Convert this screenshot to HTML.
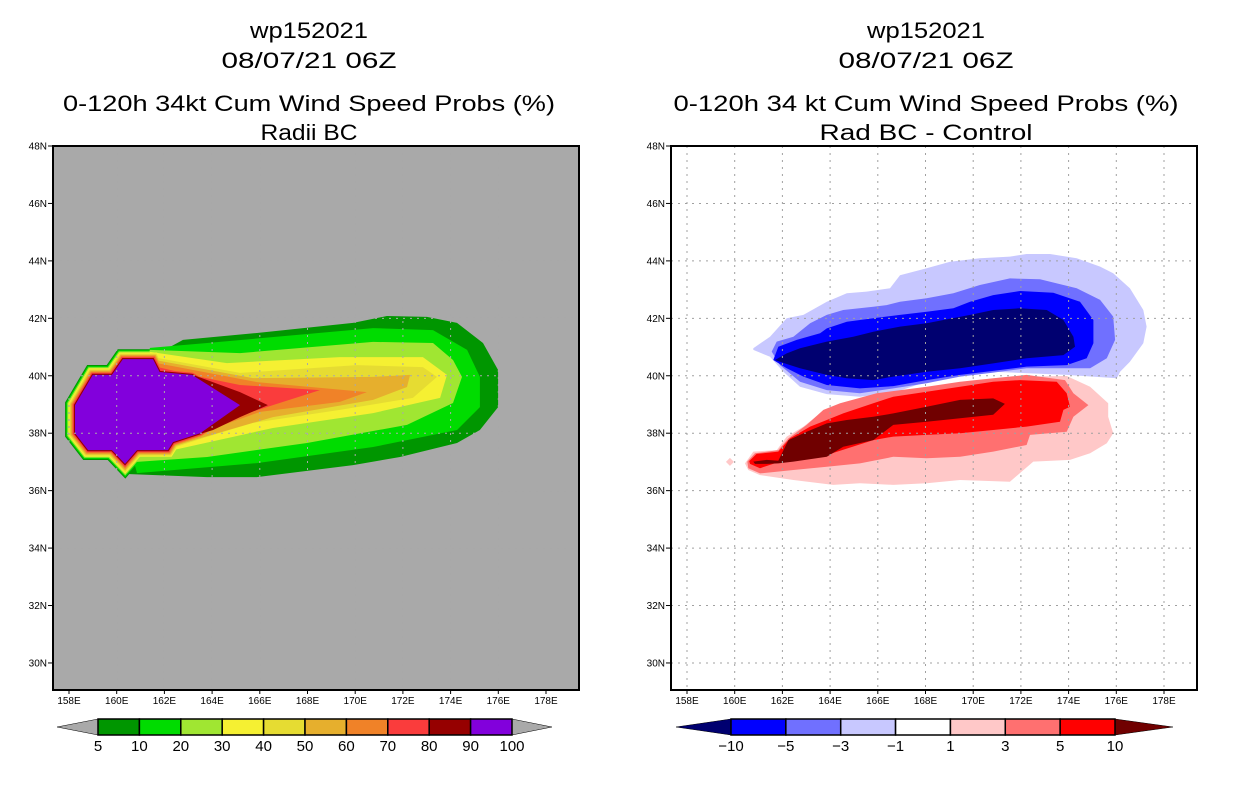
<!DOCTYPE html>
<html><head><meta charset="utf-8"><style>
html,body{margin:0;padding:0;background:#fff;}
svg{display:block;font-family:"Liberation Sans",sans-serif;}
</style></head><body>
<svg id="svg" width="1236" height="800" viewBox="0 0 1236 800" xmlns="http://www.w3.org/2000/svg"></svg>
<script>
// ---------------- data ----------------
const lonTicks = [158,160,162,164,166,168,170,172,174,176,178];
const latTicks = [30,32,34,36,38,40,42,44,46,48];
const leftLevels = ['5','10','20','30','40','50','60','70','80','90','100'];
const leftColors = ['#009600','#00dc00','#a0e632','#f5f032','#e6dc32','#e6af2d','#f08228','#fa3c3c','#960000','#8200dc'];
const rightLevels = ['-10','-5','-3','-1','1','3','5','10'];
const rightColors = ['#0000ff','#7070ff','#c8c8ff','#ffffff','#ffc8c8','#ff7070','#ff0000'];
// left panel probability contours (lon,lat), outer to inner
const prob5 = [[162.23,41.0],[162.78,41.25],[165.88,41.49],[169.91,41.84],[171.33,42.08],[173.01,42.05],[174.27,41.84],[175.36,41.14],[175.99,40.2],[175.99,38.91],[175.23,38.11],[174.27,37.66],[171.88,37.17],[169.91,36.89],[165.88,36.47],[163.79,36.47],[160.43,36.58],[160.14,38.81]];
const prob10 = [[161.40,40.97],[163.79,41.14],[170.75,41.66],[173.26,41.59],[174.69,40.9],[175.23,39.96],[175.23,38.91],[174.27,38.11],[170.75,37.52],[165.88,36.96],[160.85,36.61],[160.14,38.81]];
const prob20 = [[161.40,40.90],[165.17,40.79],[170.75,41.18],[173.26,41.14],[174.10,40.55],[174.48,39.96],[174.10,39.05],[172.17,38.29],[167.98,37.66],[163.79,37.17],[160.85,37.0],[160.14,38.81]];
const prob30 = [[161.40,40.83],[164.62,40.44],[169.36,40.65],[172.84,40.65],[173.85,40.03],[173.56,39.23],[170.75,38.70],[166.55,38.18],[162.36,37.41],[160.14,38.81]];
const prob40 = [[161.52,40.65],[165.17,40.10],[170.08,40.37],[172.84,40.30],[173.43,39.96],[172.42,39.23],[169.36,38.81],[165.71,38.36],[162.23,37.48],[160.14,38.81]];
const prob50 = [[161.61,40.55],[165.71,39.92],[170.75,39.96],[172.30,40.03],[172.17,39.61],[170.75,39.16],[166.55,38.56],[162.23,37.52],[160.14,38.81]];
const prob60 = [[161.69,40.44],[165.88,39.78],[170.49,39.43],[169.36,39.09],[166.01,38.74],[162.36,37.66],[160.14,38.81]];
const prob70 = [[161.73,40.30],[163.49,39.96],[165.17,39.68],[168.52,39.50],[166.55,38.98],[164.62,38.46],[162.95,37.87],[162.23,37.59],[160.14,38.81]];
const prob80 = [[161.82,40.13],[163.20,40.03],[165.17,39.43],[166.34,38.98],[165.17,38.56],[164.04,38.11],[162.36,37.69],[160.14,38.81]];
const prob90 = [[158.25,38.98],[159.0,40.03],[159.8,40.03],[160.26,40.58],[161.52,40.58],[161.8,40.13],[163.16,40.03],[165.17,38.98],[163.5,38.0],[162.36,37.69],[162.15,37.41],[160.85,37.41],[160.35,36.93],[159.8,37.41],[158.8,37.41],[158.25,38.0]];
const leftPolys = [prob5,prob10,prob20,prob30,prob40,prob50,prob60,prob70,prob80];
// right panel difference contours
const diffNeg1 = [[160.78,40.96],[161.48,41.36],[162.18,42.0],[162.88,42.12],[163.86,42.58],[164.7,42.87],[165.53,42.93],[166.51,43.05],[166.93,43.5],[168.05,43.74],[169.03,43.97],[170.28,44.09],[171.54,44.15],[172.24,44.24],[173.22,44.24],[174.34,44.09],[175.32,43.8],[175.87,43.57],[176.57,43.05],[177.13,42.29],[177.27,41.71],[177.13,41.13],[176.57,40.49],[176.16,40.14],[176.02,39.91],[173.92,40.03],[170.84,40.14],[169.45,39.97],[168.05,39.79],[166.65,39.41],[165.25,39.27],[163.86,39.36],[162.74,39.62],[162.04,40.14],[161.48,40.66],[160.78,40.9]];
const diffNeg3 = [[161.55,40.84],[161.76,41.19],[162.46,41.36],[163.16,41.83],[163.86,42.12],[164.55,42.29],[165.81,42.4],[166.37,42.46],[166.93,42.58],[168.05,42.7],[169.17,42.87],[170.28,43.16],[171.54,43.39],[172.8,43.36],[174.34,43.05],[175.32,42.64],[175.87,42.06],[175.95,41.25],[175.6,40.61],[174.9,40.26],[173.92,40.26],[172.24,40.26],[170.84,40.11],[169.45,39.97],[168.05,39.74],[166.65,39.56],[165.25,39.39],[163.86,39.5],[162.74,39.79],[161.9,40.37]];
const diffNeg5 = [[161.62,40.55],[161.83,41.01],[162.6,41.25],[163.58,41.48],[163.86,41.65],[164.7,41.88],[165.81,42.0],[166.93,42.12],[168.05,42.23],[169.17,42.35],[169.87,42.58],[170.84,42.81],[171.96,42.95],[173.36,42.89],[174.48,42.58],[175.04,41.94],[175.04,41.13],[174.76,40.61],[173.92,40.37],[172.24,40.32],[170.84,40.17],[169.45,40.03],[168.05,39.85],[166.65,39.64],[165.25,39.56],[163.86,39.68],[162.88,39.97],[162.18,40.26]];
const diffNeg10 = [[161.69,40.55],[162.18,40.78],[162.74,40.96],[163.86,41.19],[164.97,41.36],[165.81,41.53],[166.93,41.71],[168.05,41.83],[168.75,41.94],[169.87,42.12],[170.84,42.29],[171.96,42.35],[173.08,42.29],[173.78,41.94],[174.2,41.36],[174.27,41.01],[173.78,40.72],[172.24,40.61],[170.84,40.43],[169.45,40.26],[168.05,40.14],[166.65,39.97],[165.81,39.85],[164.7,39.91],[163.86,40.03],[162.74,40.26],[162.18,40.41]];
const diffPos1 = [[160.43,36.95],[160.78,37.36],[161.76,37.41],[162.18,37.88],[162.88,38.23],[163.58,38.69],[164.13,38.92],[165.81,39.27],[168.05,39.5],[169.73,39.74],[170.84,39.85],[172.24,39.97],[173.92,39.99],[174.9,39.62],[175.66,39.04],[175.66,38.57],[175.87,38.0],[175.6,37.65],[174.9,37.3],[174.06,37.07],[172.52,37.01],[171.54,36.31],[169.45,36.37],[168.05,36.26],[166.65,36.2],[165.25,36.26],[164.13,36.2],[162.46,36.37],[161.06,36.54],[160.57,36.72]];
const diffPos3 = [[160.53,37.01],[160.85,37.3],[161.83,37.41],[162.25,37.82],[163.02,38.29],[163.72,38.81],[164.42,39.04],[165.95,39.39],[168.05,39.62],[169.45,39.79],[170.84,39.91],[172.24,40.03],[173.85,39.85],[174.2,39.39],[174.83,38.98],[174.2,38.57],[173.92,38.05],[172.38,37.94],[172.24,37.59],[170.84,37.36],[169.45,37.18],[168.05,37.13],[166.65,37.18],[165.25,36.95],[163.86,36.83],[162.46,36.72],[161.06,36.6],[160.57,36.78]];
const diffPos5 = [[160.61,37.03],[160.92,37.28],[161.83,37.36],[162.32,37.82],[163.16,38.23],[163.86,38.46],[164.55,38.69],[165.81,39.04],[166.65,39.27],[168.05,39.44],[169.45,39.62],[170.84,39.79],[171.96,39.85],[173.5,39.79],[173.92,39.39],[174.06,38.92],[173.78,38.81],[173.64,38.4],[172.24,38.23],[170.84,38.11],[169.45,38.0],[168.05,37.94],[166.65,37.88],[165.81,37.76],[163.86,37.24],[162.46,37.07],[161.9,37.01],[161.06,36.78],[160.64,36.93]];
const diffPos10 = [[160.78,37.01],[161.34,37.07],[161.83,37.04],[162.25,37.76],[163.02,38.05],[163.86,38.34],[164.7,38.46],[165.81,38.57],[166.65,38.69],[168.05,38.92],[169.45,39.16],[170.84,39.21],[171.33,39.02],[170.84,38.64],[169.45,38.52],[168.05,38.4],[166.65,38.29],[165.81,37.76],[164.55,37.53],[163.86,37.18],[162.46,37.01],[161.83,36.95],[161.34,36.93],[160.85,36.93]];
const diffSpot = [159.8,37.0];

// ---------------- geometry ----------------
const NS='http://www.w3.org/2000/svg';
const svg=document.getElementById('svg');
const panels=[{x0:53,x1:579},{x0:671,x1:1197}];
const T=146,B=690;
function xs(p,lon){return panels[p].x0+16+(lon-158)*23.85;}
function ys(lat){return 146+(48-lat)*28.72;}
function el(tag,attrs,parent){const e=document.createElementNS(NS,tag);for(const k in attrs)e.setAttribute(k,attrs[k]);(parent||svg).appendChild(e);return e;}
function pts(p,arr){return arr.map(d=>xs(p,d[0]).toFixed(1)+','+ys(d[1]).toFixed(1)).join(' ');}
function txt(s,x,y,size,anchor,len,parent){const t=el('text',{x:x,y:y,'font-size':size,'text-anchor':anchor||'middle',fill:'#000'},parent);if(len){t.setAttribute('textLength',len);t.setAttribute('lengthAdjust','spacingAndGlyphs');}t.textContent=s;return t;}

// titles
const titles=[
 [['wp152021',118],['08/07/21 06Z',175],['0-120h 34kt Cum Wind Speed Probs (%)',492],['Radii BC',97]],
 [['wp152021',118],['08/07/21 06Z',175],['0-120h 34 kt Cum Wind Speed Probs (%)',505],['Rad BC - Control',213]]];
const tcx=[309,926], tys=[38,68,111,140];
const tnames=['title-case-id','title-date','title-product','title-subtitle'];
titles.forEach((arr,p)=>arr.forEach((t,i)=>{const e=txt(t[0],tcx[p],tys[i],22,'middle',t[1]);
 
 }));

// left panel
const gL=el('g',{});


el('rect',{x:53,y:146,width:526,height:544,fill:'#a9a9a9'},gL);
const clipL=el('clipPath',{id:'cl'},svg);el('rect',{x:53,y:146,width:526,height:544},clipL);
const cL=el('g',{'clip-path':'url(#cl)'},gL);
leftPolys.forEach((poly,i)=>{
 const off=(9-i)*1.1;
 const h=el('polygon',{points:pts(0,prob90),fill:leftColors[i],stroke:leftColors[i],'stroke-width':2*off,'stroke-linejoin':'miter'},cL);
 
 
 const t=el('polygon',{points:pts(0,poly),fill:leftColors[i]},cL);
 
 
});
const pp=el('polygon',{points:pts(0,prob90),fill:leftColors[9]},cL);



// right panel
const gR=el('g',{});


el('rect',{x:671,y:146,width:526,height:544,fill:'#fff'},gR);
const rp=[[diffNeg1,'#c8c8ff','diff-minus1'],[diffNeg3,'#7070ff','diff-minus3'],[diffNeg5,'#0000ff','diff-minus5'],[diffNeg10,'#000070','diff-minus10'],
 [diffPos1,'#ffc8c8','diff-plus1'],[diffPos3,'#ff7070','diff-plus3'],[diffPos5,'#ff0000','diff-plus5'],[diffPos10,'#700000','diff-plus10']];
rp.forEach(r=>{const e=el('polygon',{points:pts(1,r[0]),fill:r[1]},gR);
 
 });
const sx=xs(1,diffSpot[0]),sy=ys(diffSpot[1]);
const sp=el('polygon',{points:`${sx-4},${sy} ${sx},${sy-4} ${sx+4},${sy} ${sx},${sy+4}`,fill:'#ffc8c8'},gR);



// grids, frames, ticks
[0,1].forEach(p=>{
 const g=el('g',{});
 
 
 const gc=p?'#a0a0a0':'#a9a9a9';
 lonTicks.forEach(l=>{const x=xs(p,l);el('line',{x1:x,y1:T,x2:x,y2:B,stroke:gc,'stroke-width':1,'stroke-dasharray':'2,5'},g);});
 latTicks.forEach(l=>{const y=ys(l);el('line',{x1:panels[p].x0,y1:y,x2:panels[p].x1,y2:y,stroke:gc,'stroke-width':1,'stroke-dasharray':'2,5'},g);});
 const f=el('rect',{x:panels[p].x0,y:T,width:526,height:544,fill:'none',stroke:'#000','stroke-width':2});
 
 
 const ax=el('g',{});
 
 
 latTicks.forEach(l=>{const y=ys(l);el('line',{x1:panels[p].x0-5,y1:y,x2:panels[p].x0,y2:y,stroke:'#000'},ax);
  const t=txt(l+'N',panels[p].x0-6,y+3.5,10,'end',null,ax);
  
  });
 lonTicks.forEach(l=>{const x=xs(p,l);el('line',{x1:x,y1:B,x2:x,y2:B+4,stroke:'#000'},ax);
  const t=txt(l+'E',x,B+14,10,'middle',null,ax);
  
  });
});

// colorbars
function colorbar(x0,x1,tipL,tipR,colors,labels,leftTip,rightTip,name){
 const g=el('g',{});
 
 
 const y0=719,y1=735,ym=727;
 el('polygon',{points:`${tipL},${ym} ${x0},${y0} ${x0},${y1}`,fill:leftTip,stroke:'#000','stroke-width':0.5},g);
 el('polygon',{points:`${tipR},${ym} ${x1},${y0} ${x1},${y1}`,fill:rightTip,stroke:'#000','stroke-width':0.5},g);
 const w=(x1-x0)/colors.length;
 colors.forEach((c,i)=>{el('rect',{x:x0+i*w,y:y0,width:w,height:y1-y0,fill:c,stroke:'#000','stroke-width':1.5},g);});
 labels.forEach((l,i)=>{const t=txt(l.replace('-','\u2212'),x0+i*w,751,15,'middle',null,g);
  
  });
}
colorbar(98,512,57,552,leftColors,leftLevels,'#a9a9a9','#a9a9a9','left-colorbar');
colorbar(731,1115,676,1173,rightColors,rightLevels,'#000070','#700000','right-colorbar');
</script>
</body></html>
